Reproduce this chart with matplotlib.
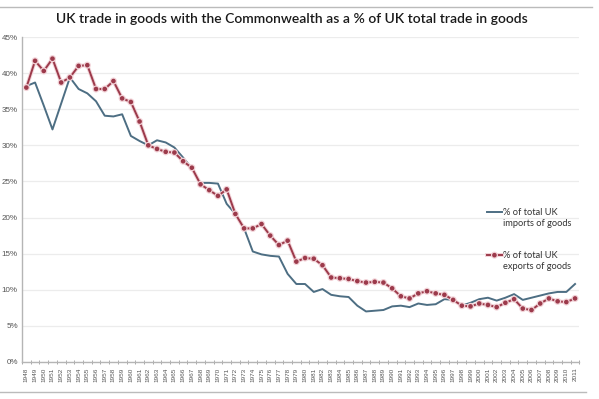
import matplotlib
matplotlib.use("Agg")
import matplotlib.pyplot as plt
import matplotlib.patheffects as pe
from matplotlib.ticker import MultipleLocator, FuncFormatter
import numpy as np

years = list(range(1948, 2012))

imports_pct = [38.2, 38.7, 35.5, 32.2, 35.8, 39.4, 37.8, 37.2, 36.1, 34.1, 34.0, 34.3,
               31.3, 30.6, 30.0, 30.7, 30.4, 29.7, 28.3, 26.8, 24.8, 24.8,
               24.7, 21.9, 20.5, 18.5, 15.3, 14.9, 14.7, 14.6, 12.2, 10.8,
               10.8, 9.7, 10.1, 9.3, 9.1, 9.0, 7.8, 7.0, 7.1, 7.2,
               7.7, 7.8, 7.6, 8.1, 7.9, 8.0, 8.7, 8.6, 7.8, 8.2,
               8.7, 8.9, 8.5, 8.9, 9.4, 8.6, 8.9, 9.2, 9.5, 9.7,
               9.7, 10.8]

exports_pct = [38.0, 41.7, 40.3, 42.0, 38.7, 39.4, 41.0, 41.1, 37.8, 37.8, 38.9, 36.5,
               36.0, 33.3, 30.0, 29.5, 29.1, 29.0, 27.8, 26.9, 24.6, 23.8,
               23.0, 23.9, 20.5, 18.5, 18.5, 19.1, 17.5, 16.2, 16.8, 13.9,
               14.4, 14.3, 13.4, 11.7, 11.6, 11.5, 11.2, 11.0, 11.1, 11.0,
               10.2, 9.1, 8.8, 9.5, 9.8, 9.5, 9.3, 8.6, 7.8, 7.7,
               8.1, 7.9, 7.6, 8.2, 8.7, 7.4, 7.2, 8.1, 8.8, 8.4,
               8.3, 8.8]

title = "UK trade in goods with the Commonwealth as a % of UK total trade in goods"
label_imp = ("% of total UK", "imports of goods")
label_exp = ("% of total UK", "exports of goods")

plt.rcParams['font.family'] = ['Lato', 'DejaVu Sans']

fig = plt.figure(figsize=(5.99, 3.99), dpi=100)
ax = fig.add_axes([22/599, 1 - 362/399, (579.4 - 22)/599, (362 - 37)/399])

blue = '#4d6e83'
red = '#9c3a4b'

ln_imp, = ax.plot(years, imports_pct, color=blue, lw=1.4, solid_joinstyle='round', zorder=3)
ln_exp, = ax.plot(years, exports_pct, color=red, lw=1.4, marker='o', ms=2.3,
                  solid_joinstyle='round', zorder=4,
                  path_effects=[pe.Stroke(linewidth=2.8, foreground='#f2d3d8'), pe.Normal()])

ax.set_xlim(1947.5, 2011.5)
ax.set_ylim(0, 45)
ax.yaxis.set_major_locator(MultipleLocator(5))
ax.yaxis.set_major_formatter(FuncFormatter(lambda v, p: f"{int(round(v))}%"))
ax.set_xticks(years)
ax.set_xticklabels([str(y) for y in years], rotation=90, fontsize=4.6, color='#555555',
                   family=['Liberation Sans', 'DejaVu Sans'])
ax.set_xticks(np.arange(1947.5, 2012, 1), minor=True)
ax.tick_params(axis='x', which='major', length=0, pad=4)
ax.tick_params(axis='x', which='minor', length=3, direction='inout', color='#999999', width=0.6)
ax.tick_params(axis='y', length=0, labelsize=5.8, labelcolor='#555555', pad=3)
for t in ax.get_yticklabels():
    t.set_family(['Liberation Sans', 'DejaVu Sans'])

ax.grid(axis='y', color='#ececec', lw=0.9)
ax.set_axisbelow(True)
for s in ['top', 'right']:
    ax.spines[s].set_visible(False)
for s in ['left', 'bottom']:
    ax.spines[s].set_color('#b5b5b5')
    ax.spines[s].set_linewidth(1.0)

fig.text(0.488, 1 - 19/399, title, ha='center', va='center', fontsize=10,
         color='#1a1a1a', fontweight='semibold')

# chart-area border lines
fig.add_artist(plt.Line2D([0, 592/599], [1 - 7/399, 1 - 7/399], transform=fig.transFigure,
                          color='#bbbbbb', lw=1.0))
fig.add_artist(plt.Line2D([0, 586/599], [1 - 392/399, 1 - 392/399], transform=fig.transFigure,
                          color='#bbbbbb', lw=1.0))

leg = ax.legend([ln_imp, ln_exp], [label_imp[0], label_exp[0]],
                loc='upper left', bbox_to_anchor=(487/599, 1 - 208/399),
                bbox_transform=fig.transFigure, frameon=False, fontsize=6.7,
                handlelength=1.6, handletextpad=0.1, labelspacing=3.7,
                borderpad=0, borderaxespad=0)
fig.canvas.draw()
inv = fig.transFigure.inverted()
for txt, second in zip(leg.get_texts(), [label_imp[1], label_exp[1]]):
    txt.set_color('#333333')
    bb = txt.get_window_extent()
    x0, y0 = inv.transform((bb.x0, bb.y0))
    fig.text(x0, y0 - 1.5/399, second, ha='left', va='top', fontsize=6.7, color='#333333')

fig.savefig('out.png', dpi=100)
